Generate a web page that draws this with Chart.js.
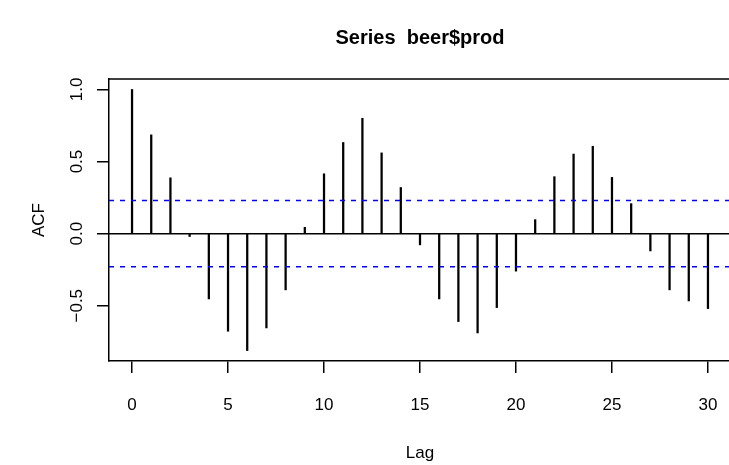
<!DOCTYPE html>
<html>
<head>
<meta charset="utf-8">
<script src="https://cdn.jsdelivr.net/npm/chart.js@4/dist/chart.umd.min.js"></script>
<style>
  html, body { margin: 0; padding: 0; background: #fff; overflow: hidden; }
  canvas { display: block; }
</style>
</head>
<body>
<canvas id="acf" width="740" height="465"></canvas>
<script>
// Sample autocorrelation of beer production, lags 0..30
const lags = [0, 1, 2, 3, 4, 5, 6, 7, 8, 9, 10, 11, 12, 13, 14, 15,
              16, 17, 18, 19, 20, 21, 22, 23, 24, 25, 26, 27, 28, 29, 30];
const acfValues = [1.000, 0.685, 0.387, -0.020, -0.453, -0.677, -0.811, -0.654,
                   -0.390, 0.044, 0.415, 0.632, 0.800, 0.560, 0.320, -0.078,
                   -0.453, -0.610, -0.689, -0.513, -0.260, 0.097, 0.395, 0.552,
                   0.606, 0.390, 0.208, -0.120, -0.390, -0.467, -0.520];
// approximate 95% white-noise bound
const ciBound = 0.23;

const xTicks = [0, 5, 10, 15, 20, 25, 30];
const xTickLabels = ['0', '5', '10', '15', '20', '25', '30'];
const yTicks = [-0.5, 0, 0.5, 1.0];
const yTickLabels = ['\u22120.5', '0.0', '0.5', '1.0'];

const titleText = 'Series  beer$prod';
const xTitle = 'Lag';
const yTitle = 'ACF';

// axis limits padded by 4% of the data range on each side
function padRange(lo, hi) {
  const d = (hi - lo) * 0.04;
  return [lo - d, hi + d];
}
const [xMin, xMax] = padRange(Math.min(...lags), Math.max(...lags));
const [yMin, yMax] = padRange(
  Math.min(...acfValues, -ciBound),
  Math.max(...acfValues, ciBound)
);

const FONT = 'Liberation Sans, Arial, Helvetica, sans-serif';
const INK = '#000000';

// frame line across the top of the plot region, plus the main title
const frameAndTitle = {
  id: 'frameAndTitle',
  afterDraw(chart) {
    const { ctx, chartArea } = chart;
    ctx.save();
    ctx.strokeStyle = INK;
    ctx.lineWidth = 1.5;
    ctx.beginPath();
    ctx.moveTo(chartArea.left, chartArea.top);
    ctx.lineTo(chartArea.right, chartArea.top);
    ctx.lineTo(chartArea.right, chartArea.bottom);
    ctx.stroke();
    ctx.fillStyle = INK;
    ctx.font = 'bold 20px ' + FONT;
    ctx.textAlign = 'center';
    ctx.textBaseline = 'middle';
    ctx.fillText(titleText, (chartArea.left + chartArea.right) / 2, 38);
    ctx.restore();
  }
};

function hLine(y, color, dash) {
  return {
    type: 'line',
    data: [{ x: xMin, y: y }, { x: xMax, y: y }],
    borderColor: color,
    borderWidth: 1.5,
    borderDash: dash,
    pointRadius: 0,
    fill: false,
    order: 0
  };
}

new Chart(document.getElementById('acf'), {
  type: 'bar',
  data: {
    datasets: [
      {
        type: 'bar',
        data: lags.map((l, i) => ({ x: l, y: acfValues[i] })),
        backgroundColor: INK,
        borderWidth: 0,
        barThickness: 1.6,
        order: 2
      },
      hLine(0, INK, []),
      hLine(ciBound, '#0000ff', [5, 6]),
      hLine(-ciBound, '#0000ff', [5, 6])
    ]
  },
  options: {
    responsive: false,
    animation: false,
    devicePixelRatio: 1,
    layout: { padding: { top: 79, right: 9, bottom: 0, left: 0 } },
    plugins: {
      legend: { display: false },
      tooltip: { enabled: false },
      title: { display: false }
    },
    scales: {
      x: {
        type: 'linear',
        min: xMin,
        max: xMax,
        offset: false,
        afterBuildTicks: s => { s.ticks = xTicks.map(v => ({ value: v })); },
        afterFit: s => { s.height = 104; },
        grid: { drawOnChartArea: false, offset: false, tickLength: 12, color: INK, lineWidth: 1.5 },
        border: { display: true, color: INK, width: 1.5 },
        ticks: {
          color: INK,
          font: { family: FONT, size: 17 },
          padding: 22,
          maxRotation: 0,
          autoSkip: false,
          callback: (v, i) => xTickLabels[i]
        },
        title: {
          display: true,
          text: xTitle,
          color: INK,
          font: { family: FONT, size: 17 },
          padding: { top: 0, bottom: 1 }
        }
      },
      y: {
        type: 'linear',
        min: yMin,
        max: yMax,
        afterBuildTicks: s => { s.ticks = yTicks.map(v => ({ value: v })); },
        afterFit: s => { s.width = 109; },
        grid: { drawOnChartArea: false, tickLength: 12, color: INK, lineWidth: 1.5 },
        border: { display: true, color: INK, width: 1.5 },
        ticks: {
          color: INK,
          font: { family: FONT, size: 17 },
          padding: 3,
          minRotation: 90,
          maxRotation: 90,
          crossAlign: 'center',
          autoSkip: false,
          callback: (v, i) => yTickLabels[i]
        },
        title: {
          display: true,
          text: yTitle,
          color: INK,
          font: { family: FONT, size: 17 },
          padding: { top: 29, bottom: 0 }
        }
      }
    }
  },
  plugins: [frameAndTitle]
});
</script>
</body>
</html>
